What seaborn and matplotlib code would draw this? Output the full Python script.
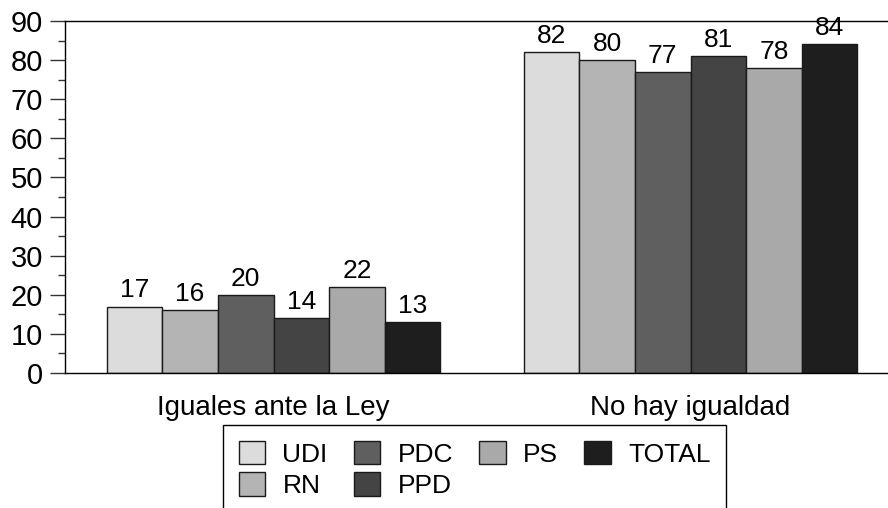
import pandas as pd
import numpy as np
import matplotlib.pyplot as plt
import seaborn as sns
from matplotlib.ticker import MultipleLocator

# values
categories = ['Iguales ante la Ley', 'No hay igualdad']
parties = ['UDI', 'RN', 'PDC', 'PPD', 'PS', 'TOTAL']
iguales = [17, 16, 20, 14, 22, 13]
no_igualdad = [82, 80, 77, 81, 78, 84]
colors = ['#dcdcdc', '#b4b4b4', '#5f5f5f', '#444444', '#a9a9a9', '#1e1e1e']

df = pd.DataFrame({
    'cat': [categories[0]] * 6 + [categories[1]] * 6,
    'party': parties * 2,
    'val': iguales + no_igualdad,
})

sns.set_style('white')
plt.rcParams['font.family'] = ['Liberation Sans', 'DejaVu Sans']
plt.rcParams['text.color'] = 'black'

fig = plt.figure(figsize=(8.88, 5.08), dpi=100)
ax = fig.add_axes([65 / 888, 1 - 373 / 508, 834 / 888, 352 / 508])

sns.barplot(data=df, x='cat', y='val', hue='party', hue_order=parties,
            palette=colors, width=0.8, gap=0, edgecolor='#1a1a1a',
            linewidth=1, saturation=1, ax=ax)

for c in ax.containers:
    ax.bar_label(c, fontsize=19, padding=3, color='black')

ax.set_xlim(-0.5, 1.5)
ax.set_ylim(0, 90)
ax.yaxis.set_major_locator(MultipleLocator(10))
ax.yaxis.set_minor_locator(MultipleLocator(5))
ax.tick_params(axis='y', which='major', direction='out', length=11, width=1,
               color='#333333', labelsize=21, left=True, pad=5,
               labelcolor='black')
ax.tick_params(axis='y', which='minor', direction='out', length=5, width=1,
               color='#333333', left=True)
ax.tick_params(axis='x', length=0, labelsize=20, pad=16, labelcolor='black')
ax.set_xlabel('')
ax.set_ylabel('')

for s in ['left', 'top', 'bottom']:
    ax.spines[s].set_visible(True)
    ax.spines[s].set_color('black')
    ax.spines[s].set_linewidth(1)
ax.spines['right'].set_visible(False)

handles, labels = ax.get_legend_handles_labels()
ax.get_legend().remove()
leg = fig.legend(handles, labels, ncol=4, loc='upper left',
                 bbox_to_anchor=(223 / 888, 1 - 425 / 508),
                 fontsize=19, frameon=True, fancybox=False, framealpha=1,
                 edgecolor='black', handlelength=1.0, handleheight=1.0,
                 columnspacing=1.0, handletextpad=0.65, borderpad=0.6,
                 labelspacing=0.2, borderaxespad=0)
leg.get_frame().set_linewidth(1)

fig.savefig('out.png', dpi=100)
